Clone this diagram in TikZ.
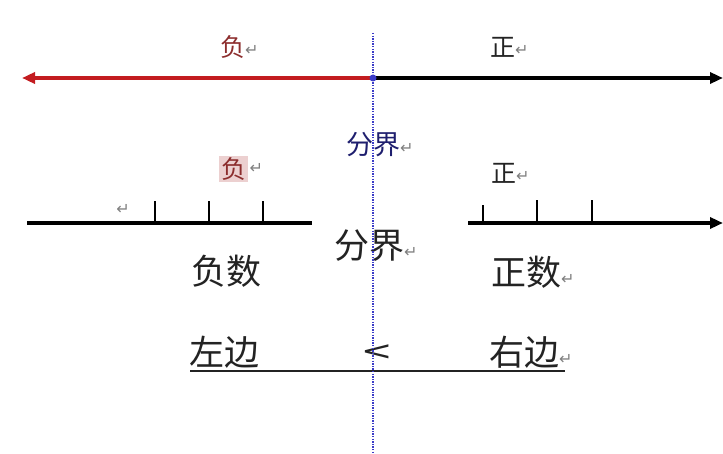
\documentclass[tikz,border=0pt]{standalone}
\usepackage{fontspec}
\setmainfont{Noto Sans CJK SC}
\newfontfamily\symfont{DejaVu Sans}
\usetikzlibrary{arrows.meta}
\definecolor{negred}{RGB}{195,28,32}
\definecolor{negtext}{RGB}{140,45,45}
\definecolor{navy}{RGB}{30,30,110}
\definecolor{dotblue}{RGB}{60,60,200}
\definecolor{hlpink}{RGB}{236,208,208}
\definecolor{inkgray}{RGB}{35,35,35}
\newcommand{\retm}{{\symfont\color{gray}\fontsize{16}{16}\selectfont\raisebox{1pt}{↵}}}
\tikzset{
  lbl/.style={inner sep=0pt, anchor=west, font=\fontsize{25}{27}\selectfont, text=inkgray},
  biglbl/.style={inner sep=0pt, anchor=west, font=\fontsize{35}{38}\selectfont, text=inkgray},
  axisline/.style={line width=4pt, black},
  tickline/.style={line width=1.3pt, black},
  bigtip/.style={-{Triangle[length=13pt,width=11pt]}},
  divider/.style={dotblue, line width=1.4pt, dash pattern=on 1.4pt off 1.2pt},
}
\begin{document}
\begin{tikzpicture}[x=1pt,y=-1pt]
\useasboundingbox (0,0) rectangle (723,454);
% top arrows
\coordinate (O) at (373,78);
\coordinate (Lend) at (22,78);
\coordinate (Rend) at (723,78);
\draw[negred, line width=4.5pt, bigtip] (O) -- (Lend);
\draw[black, line width=4.5pt, bigtip] (O) -- (Rend);
% top labels
\node[lbl, text=negtext] (neg1) at (220,47) {负\retm};
\node[lbl] (pos1) at (490,47) {正\retm};
\node[lbl, text=navy, font=\fontsize{27}{29}\selectfont] (div1) at (346,145) {分界\retm};
\node[lbl, text=negtext, fill=hlpink, inner sep=2pt] (neg2) at (219,169) {负};
\node[inner sep=0pt, anchor=west] (neg2r) at ([xshift=1pt]neg2.east) {\retm};
\node[lbl] (pos2) at (491,173) {正\retm};
% lower axes
\coordinate (LA) at (27,223);
\coordinate (LB) at (312,223);
\coordinate (RA) at (468,223);
\coordinate (RB) at (723,223);
\draw[axisline] (LA) -- (LB);
\draw[axisline, bigtip] (RA) -- (RB);
\foreach \tx in {155,209,263}{\draw[tickline] (\tx,223) -- (\tx,201);}
\draw[tickline] (483,223) -- (483,205);
\foreach \tx in {537,592}{\draw[tickline] (\tx,223) -- (\tx,200);}
\node[inner sep=0pt] (lret) at (123,210) {\retm};
% big labels
\node[biglbl] (div2) at (334,246) {分界\retm};
\node[biglbl] (negn) at (191,271) {负数};
\node[biglbl] (posn) at (491,272) {正数\retm};
\node[biglbl] (left) at (189,352) {左边};
\node[inner sep=0pt, font=\fontsize{35}{38}\selectfont, text=inkgray] (lt) at (377,354) {\scalebox{1.4}[0.9]{<}};
\node[biglbl] (right) at (489,352) {右边\retm};
\coordinate (U1) at (190,371);
\coordinate (U2) at (565,371);
\draw[line width=1.6pt, inkgray] (U1) -- (U2);
% divider
\coordinate (D1) at (373,33);
\coordinate (D2) at (373,452);
\draw[divider] (D1) -- (D2);
\fill[dotblue] (O) circle (3.5pt);
\end{tikzpicture}
\end{document}
